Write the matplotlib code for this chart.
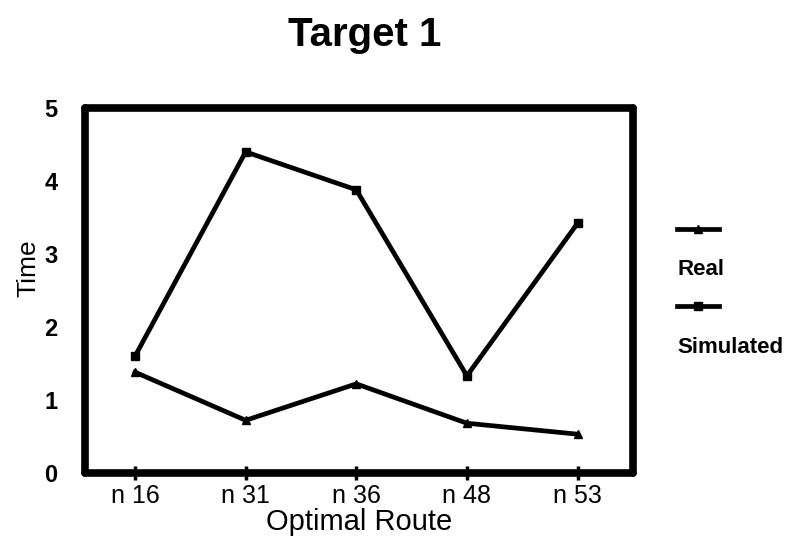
import matplotlib
matplotlib.use('Agg')
import matplotlib.pyplot as plt
from matplotlib.lines import Line2D

plt.rcParams['font.family'] = ['Liberation Sans', 'DejaVu Sans']

routes = ['n 16', 'n 31', 'n 36', 'n 48', 'n 53']
real = [1.38, 0.72, 1.22, 0.68, 0.53]
simulated = [1.60, 4.40, 3.88, 1.33, 3.42]
y_ticks = [0, 1, 2, 3, 4, 5]

fig = plt.figure(figsize=(7.97, 5.46), dpi=100)
ax = fig.add_axes([0.107, 0.134, 0.687, 0.668])

x = list(range(len(routes)))
real_line, = ax.plot(x, real, color='black', lw=3.4, marker='^', ms=6,
                     solid_joinstyle='miter')
sim_line, = ax.plot(x, simulated, color='black', lw=3.4, marker='s', ms=6,
                    solid_joinstyle='miter')

ax.set_xlim(-0.45, 4.5)
ax.set_ylim(0, 5)
ax.set_xticks(x)
ax.set_xticklabels(routes, fontsize=18)
ax.set_yticks(y_ticks)
ax.set_yticklabels([str(v) for v in y_ticks], fontsize=17, fontweight='bold')
ax.tick_params(axis='x', direction='inout', length=10, width=2.5, pad=3)
ax.tick_params(axis='y', length=0, pad=20)

for s in ax.spines.values():
    s.set_linewidth(5.5)
    s.set_capstyle('round')
    s.set_joinstyle('round')

ax.set_xlabel('Optimal Route', fontsize=21, labelpad=0)
ax.set_ylabel('Time', fontsize=19)
ax.yaxis.set_label_coords(-0.082, 0.56)
fig.text(0.458, 0.935, 'Target 1', fontsize=29, fontweight='bold',
         ha='center', va='center')

blank = Line2D([], [], color='none')
leg = fig.legend([real_line, blank, sim_line, blank],
                 ['', 'Real', '', 'Simulated'],
                 loc='center left', bbox_to_anchor=(0.83, 0.47),
                 frameon=False, handlelength=1.9, handletextpad=-1.9,
                 labelspacing=0.8, borderpad=0.2,
                 prop={'size': 16, 'weight': 'bold'})

fig.savefig('out.png', dpi=100)
